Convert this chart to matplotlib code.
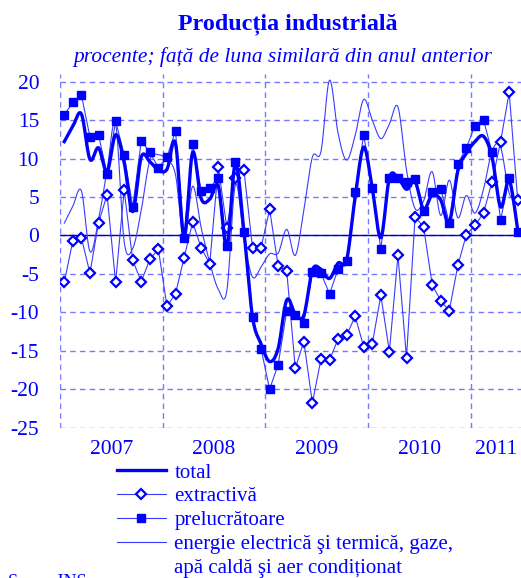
import numpy as np
import matplotlib
matplotlib.use("Agg")
import matplotlib.pyplot as plt
from matplotlib.lines import Line2D

# monthly values, Jan 2007 - Jun 2011 (% y/y)
years = ["2007", "2008", "2009", "2010", "2011"]

total = [12.2, 14.2, 15.8, 9.9, 11.4, 8.3, 13.1, 9.5, 3.1, 10.2, 9.6, 8.5,
         8.6, 12.0, -0.2, 10.8, 4.8, 4.7, 6.4, -1.5, 9.4, 0.5, -10.6, -14.1,
         -16.4, -14.7, -8.4, -10.2, -10.4, -4.5, -4.4, -5.6, -3.6, -3.2, 5.0, 11.5,
         6.1, -0.3, 7.5, 7.5, 6.0, 7.0, 3.4, 5.3, 4.6, 1.7, 8.4, 10.7,
         12.2, 12.9, 10.2, 3.7, 7.2, 0.7]

extractiva = [-6.1, -0.7, -0.3, -4.9, 1.6, 5.3, -6.1, 5.9, -3.25, -6.0, -3.1, -1.8,
              -9.2, -7.6, -2.9, 1.7, -1.6, -3.7, 8.9, 1.0, 7.5, 8.5, -1.6, -1.6,
              3.4, -4.0, -4.6, -17.3, -13.8, -21.8, -16.1, -16.2, -13.5, -13.0, -10.5, -14.5,
              -14.1, -7.8, -15.1, -2.6, -15.9, 2.4, 1.1, -6.4, -8.5, -9.8, -3.9, 0.1,
              1.3, 2.9, 7.0, 12.2, 18.6, 4.6]

prelucratoare = [15.7, 17.3, 18.3, 12.8, 13.1, 8.0, 14.9, 10.5, 3.7, 12.3, 10.8, 8.8,
                 10.2, 13.6, -0.3, 11.9, 5.8, 6.2, 7.5, -1.4, 9.5, 0.4, -10.6, -14.75,
                 -20.0, -16.8, -9.8, -10.4, -11.4, -4.8, -4.9, -7.6, -4.4, -3.3, 5.7, 13.1,
                 6.2, -1.8, 7.5, 7.5, 7.0, 7.4, 3.2, 5.6, 6.1, 1.6, 9.3, 11.4,
                 14.3, 15.05, 10.8, 2.0, 7.5, 0.4]

energie = [1.6, 3.8, 5.8, -2.1, 2.0, 8.5, 14.5, -0.8, -1.7, 3.3, 9.8, 10.5,
           9.8, 7.9, -0.6, 6.4, 1.0, -3.5, -7.0, -7.2, 6.6, -0.5, -5.4, -4.1,
           -2.4, -2.3, 0.8, -2.6, 3.3, 10.2, 10.9, 20.2, 13.3, 9.8, 13.0, 17.7,
           15.0, 12.6, 14.5, 16.7, 8.5, 3.5, 4.5, 8.3, 2.6, 7.2, 2.3, 5.2,
           2.9, 6.0, 11.0, 11.5, 5.5, 4.5]


def smooth(y, n=12):
    # Catmull-Rom style curve through the points (like Excel "smoothed line")
    y = np.asarray(y, float)
    x = np.arange(len(y), dtype=float)
    p = np.column_stack([x, y])
    p = np.vstack([p[0], p, p[-1]])
    out = []
    t = np.linspace(0, 1, n, endpoint=False)[:, None]
    for i in range(1, len(p) - 2):
        p0, p1, p2, p3 = p[i - 1], p[i], p[i + 1], p[i + 2]
        c1 = p1 + (p2 - p0) / 6
        c2 = p2 - (p3 - p1) / 6
        b = ((1 - t) ** 3) * p1 + 3 * ((1 - t) ** 2) * t * c1 + 3 * (1 - t) * t ** 2 * c2 + t ** 3 * p2
        out.append(b)
    out.append(p[-2][None, :])
    out = np.vstack(out)
    return out[:, 0], out[:, 1]


blue = "#0000FF"
grid_c = "#7777FF"
plt.rcParams["font.family"] = ["Liberation Serif", "DejaVu Serif"]
plt.rcParams["axes.unicode_minus"] = False

fig = plt.figure(figsize=(5.21, 5.78), dpi=100)
ax = fig.add_axes([60 / 521, 150 / 578, 462 / 521, 354 / 578])

x = np.arange(len(total))

xs, ys = smooth(energie)
ax.plot(xs, ys, color="#3a3aff", lw=0.8, zorder=2)
ax.plot(x, extractiva, color="#3a3aff", lw=0.8, marker="D", ms=5.5,
        mfc="white", mec=blue, mew=1.6, zorder=3)
ax.plot(x, prelucratoare, color="#3a3aff", lw=0.8, marker="s", ms=5.2,
        mfc=blue, mec=blue, zorder=4)
xs, ys = smooth(total)
ax.plot(xs, ys, color=blue, lw=2.4, zorder=5)

ax.axhline(0, color="#0000C0", lw=1.0, zorder=1)

ax.set_xlim(-0.5, 53.5)
ax.set_ylim(-25.05, 21)
ax.set_yticks(np.arange(-25, 21, 5))
ax.set_xticks([-0.5, 11.5, 23.5, 35.5, 47.5])
ax.set_xticklabels([])
ax.set_xticks([5.5, 17.5, 29.5, 41.5, 50.5], minor=True)
ax.set_xticklabels(years, minor=True)
ax.tick_params(axis="x", which="both", length=0, pad=9, labelsize=15.5, labelcolor=blue)
ax.tick_params(axis="y", length=0, pad=15, labelsize=15.5, labelcolor=blue)
ax.grid(True, which="major", color=grid_c, ls=(0, (4, 3)), lw=1.0)
ax.set_axisbelow(True)
for s in ax.spines.values():
    s.set_visible(False)

fig.text(288 / 521, 1 - 24 / 578, "Producția industrială", ha="center", va="center",
         fontsize=17.3, fontweight="bold", color=blue)
fig.text(283 / 521, 1 - 57 / 578, "procente; față de luna similară din anul anterior",
         ha="center", va="center", fontsize=15.4, style="italic", color=blue)

handles = [
    Line2D([], [], color=blue, lw=2.4),
    Line2D([], [], color="#3a3aff", lw=0.8, marker="D", ms=5.5, mfc="white", mec=blue, mew=1.6),
    Line2D([], [], color="#3a3aff", lw=0.8, marker="s", ms=5.2, mfc=blue, mec=blue),
    Line2D([], [], color="#3a3aff", lw=0.8),
    Line2D([], [], color="none", lw=0),
]
labels = ["total", "extractivă", "prelucrătoare",
          "energie electrică şi termică, gaze,", "apă caldă şi aer condiționat"]
leg = fig.legend(handles, labels, loc="upper left", bbox_to_anchor=(117 / 521, 1 - 463 / 578),
                 frameon=False, fontsize=15, handlelength=2.35, handletextpad=0.4,
                 labelspacing=0.2, borderpad=0, borderaxespad=0)
for t in leg.get_texts():
    t.set_color(blue)

fig.text(8 / 521, 1 - 574 / 578, "Sursa: INS", ha="left", va="top", fontsize=13, color=blue)

fig.savefig("out.png", dpi=100)
